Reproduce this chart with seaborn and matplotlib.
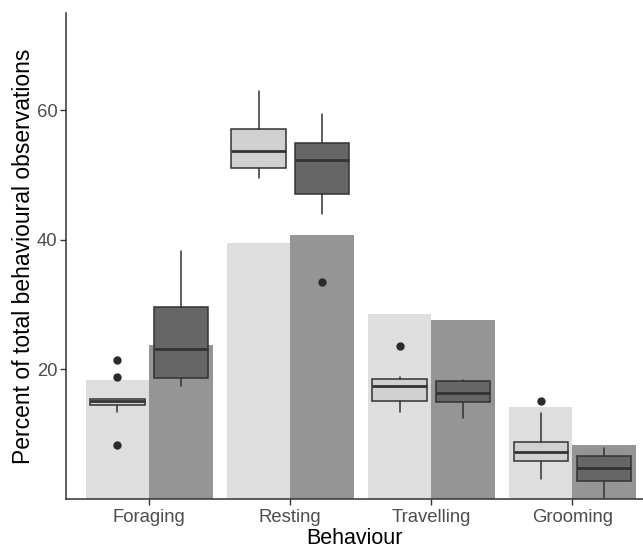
import matplotlib
matplotlib.use("Agg")
import matplotlib.pyplot as plt
import seaborn as sns
import pandas as pd
import numpy as np

behaviours = ["Foraging", "Resting", "Travelling", "Grooming"]
groups = ["Group 1", "Group 2"]

# bar heights (percent)
bar_g1 = [18.3, 39.5, 28.5, 14.2]
bar_g2 = [23.7, 40.8, 27.7, 8.3]

# box statistics: [whislo, q1, median, q3, whishi]
box_g1 = [[13.5, 14.5, 15.1, 15.5, 15.5],
          [49.5, 51.1, 53.7, 57.1, 62.9],
          [13.5, 15.1, 17.4, 18.5, 18.9],
          [3.1, 5.8, 7.2, 8.8, 13.2]]
box_g2 = [[17.5, 18.6, 23.1, 29.7, 38.2],
          [44.0, 47.1, 52.3, 54.9, 59.4],
          [12.5, 14.9, 16.3, 18.2, 18.3],
          [0.1, 2.8, 4.8, 6.6, 7.8]]
fliers_g1 = [[21.4, 18.8, 8.3], [], [23.6], [15.1]]
fliers_g2 = [[], [33.5], [], []]

sns.set_theme(style="white")
plt.rcParams["font.family"] = ["Liberation Sans", "DejaVu Sans"]

df = pd.DataFrame({
    "Behaviour": behaviours * 2,
    "Group": [groups[0]] * 4 + [groups[1]] * 4,
    "Percent": bar_g1 + bar_g2,
})

fig = plt.figure(figsize=(6.43, 5.49), dpi=100)
ax = fig.add_axes([66 / 643, 50 / 549, 1 - 66 / 643, (549 - 13 - 50) / 549])

sns.barplot(data=df, x="Behaviour", y="Percent", hue="Group",
            order=behaviours, hue_order=groups,
            palette=["#DEDEDE", "#959595"], saturation=1, width=0.9,
            errorbar=None, legend=False, ax=ax, linewidth=0)

def make_stats(boxes, fliers):
    out = []
    for b, f in zip(boxes, fliers):
        out.append(dict(whislo=b[0], q1=b[1], med=b[2], q3=b[3], whishi=b[4],
                        fliers=np.array(f)))
    return out

x = np.arange(len(behaviours))
for stats, off, fc in [(make_stats(box_g1, fliers_g1), -0.225, "#D0D0D0"),
                       (make_stats(box_g2, fliers_g2), 0.225, "#666666")]:
    ax.bxp(stats, positions=x + off, widths=0.385, patch_artist=True,
           showcaps=False, manage_ticks=False,
           boxprops=dict(facecolor=fc, edgecolor="#333333", linewidth=1.1),
           medianprops=dict(color="#333333", linewidth=2.0),
           whiskerprops=dict(color="#333333", linewidth=1.1),
           flierprops=dict(marker="o", markerfacecolor="#2B2B2B",
                           markeredgecolor="#2B2B2B", markersize=5))

ax.set_xlim(-0.59, 3.5)
ax.set_ylim(0, 75)
ax.set_yticks([20, 40, 60])
ax.set_xticks(x)
ax.set_xticklabels(behaviours)
ax.set_xlabel("Behaviour", fontsize=15.5, color="black", labelpad=1.5)
ax.set_ylabel("Percent of total behavioural observations", fontsize=16.5,
              color="black", labelpad=1.5)
ax.tick_params(axis="x", pad=3.5)
ax.tick_params(axis="y", pad=2)
ax.tick_params(axis="both", labelsize=13.3, labelcolor="#4D4D4D",
               color="#333333", length=4, width=1, direction="out",
               left=True, bottom=True)
for s in ["top", "right"]:
    ax.spines[s].set_visible(False)
for s in ["left", "bottom"]:
    ax.spines[s].set_color("#333333")
    ax.spines[s].set_linewidth(1.1)

fig.savefig("out.png", dpi=100)
